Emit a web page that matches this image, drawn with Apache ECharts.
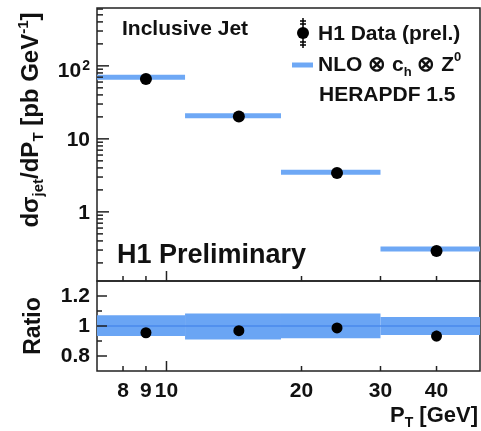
<!DOCTYPE html>
<html>
<head>
<meta charset="utf-8">
<script src="https://cdn.jsdelivr.net/npm/echarts@6/dist/echarts.min.js"></script>
<style>
  html, body { margin: 0; padding: 0; background: #fff; }
  #chart { width: 481px; height: 431px; }
</style>
</head>
<body>
<div id="chart"></div>
<script>
// Inclusive jet cross section in bins of jet transverse momentum
const binEdges   = [7, 11, 18, 30, 50];          // P_T bin edges [GeV]
const ptCenters  = [9, 14.5, 24, 40];            // data point positions [GeV]
const h1Data     = [66, 20.2, 3.4, 0.29];        // dσ/dP_T [pb/GeV]
const h1Err      = [2.0, 0.6, 0.11, 0.012];
const nloPred    = [70, 20.7, 3.5, 0.31];        // NLO ⊗ c_h ⊗ Z0
const ratioData  = [0.955, 0.969, 0.987, 0.933]; // data / theory
const ratioErr   = [0.015, 0.015, 0.02, 0.035];
const bandLow    = [0.934, 0.91, 0.918, 0.94];   // theory uncertainty
const bandHigh   = [1.072, 1.083, 1.083, 1.06];

// axis ticks
const xTickMajor   = [10];
const xTickMinor   = [8, 9, 20, 30, 40];
const xTickLabels  = [8, 9, 10, 20, 30, 40];
const yTickMajor   = [1, 10, 100];
const yTickMinor   = [0.2, 0.3, 0.4, 0.5, 0.6, 0.7, 0.8, 0.9,
                      2, 3, 4, 5, 6, 7, 8, 9,
                      20, 30, 40, 50, 60, 70, 80, 90,
                      200, 300, 400, 500, 600];
const ratioTickMajor = [0.8, 1, 1.2];
const ratioTickMinor = [0.9, 1.1];

const FONT = '"Liberation Sans", Arial, Helvetica, sans-serif';
const INK = '#111';
const FRAME = '#222';
const BLUE = '#6ea8f5';
const BAND = '#6aa5f4';
const BAND_LINE = '#4a8aec';

const xMin = binEdges[0], xMax = binEdges[binEdges.length - 1];
const yMin = 0.113, yMax = 620;
const rMin = 0.7, rMax = 1.3;

const chart = echarts.init(document.getElementById('chart'), null, { renderer: 'canvas' });

function baseAxis(gridIndex, axisType, min, max, labels, extra) {
  const ax = {
    type: axisType,
    gridIndex: gridIndex,
    min: min,
    max: max,
    axisLine: { show: false },
    splitLine: { show: false },
    axisTick: { show: false },
    axisLabel: { show: false }
  };
  if (axisType === 'log') ax.logBase = 10;
  if (labels) {
    ax.axisLabel = Object.assign({
      show: true, customValues: labels, color: INK,
      fontFamily: FONT, fontWeight: 'bold', fontSize: 21
    }, extra || {});
  }
  return ax;
}

const nloSegments = nloPred.map((v, i) => [binEdges[i], binEdges[i + 1], v]);
const bandRects = bandLow.map((lo, i) => [binEdges[i], binEdges[i + 1], lo, bandHigh[i]]);
const dataPts = ptCenters.map((x, i) => [x, h1Data[i]]);
const dataErr = ptCenters.map((x, i) => [x, h1Data[i] - h1Err[i], h1Data[i] + h1Err[i]]);
const ratioPts = ptCenters.map((x, i) => [x, ratioData[i]]);
const ratioErrBars = ptCenters.map((x, i) => [x, ratioData[i] - ratioErr[i], ratioData[i] + ratioErr[i]]);

function errorBarItem(params, api) {
  const top = api.coord([api.value(0), api.value(2)]);
  const bot = api.coord([api.value(0), api.value(1)]);
  return {
    type: 'line',
    shape: { x1: top[0], y1: top[1], x2: bot[0], y2: bot[1] },
    style: { stroke: '#000', lineWidth: 2 }
  };
}

const option = {
  animation: false,
  backgroundColor: '#fff',
  grid: [
    { left: 97, top: 8, width: 383, height: 273, show: true, borderColor: FRAME, borderWidth: 1.5, backgroundColor: 'transparent' },
    { left: 97, top: 281, width: 383, height: 90, show: true, borderColor: FRAME, borderWidth: 1.5, backgroundColor: 'transparent' }
  ],
  xAxis: [
    baseAxis(0, 'log', xMin, xMax),
    baseAxis(1, 'log', xMin, xMax, xTickLabels, { margin: 10 })
  ],
  yAxis: [
    baseAxis(0, 'log', yMin, yMax, yTickMajor, {
      margin: 7,
      formatter: function (v) {
        if (v >= 99) return '{m|10}{s|2}';
        return '{p|' + Math.round(v) + '}';
      },
      rich: {
        p: { fontFamily: FONT, fontWeight: 'bold', fontSize: 21, color: INK, lineHeight: 26, padding: [3, 0, 0, 0] },
        m: { fontFamily: FONT, fontWeight: 'bold', fontSize: 21, color: INK, lineHeight: 32, verticalAlign: 'bottom' },
        s: { fontFamily: FONT, fontWeight: 'bold', fontSize: 14, color: INK, lineHeight: 32, verticalAlign: 'middle', padding: [0, 0, 0, 1] }
      }
    }),
    baseAxis(1, 'value', rMin, rMax, ratioTickMajor, { margin: 7 })
  ],
  series: [
    {
      // theory prediction per bin
      type: 'custom',
      xAxisIndex: 0, yAxisIndex: 0,
      data: nloSegments,
      encode: { x: [0, 1], y: 2 },
      clip: true,
      renderItem: function (params, api) {
        const a = api.coord([api.value(0), api.value(2)]);
        const b = api.coord([api.value(1), api.value(2)]);
        return {
          type: 'line',
          shape: { x1: a[0], y1: a[1], x2: b[0], y2: b[1] },
          style: { stroke: BLUE, lineWidth: 5 }
        };
      },
      z: 2
    },
    {
      type: 'custom',
      xAxisIndex: 0, yAxisIndex: 0,
      data: dataErr,
      encode: { x: 0, y: [1, 2] },
      renderItem: errorBarItem,
      z: 3
    },
    {
      type: 'scatter',
      xAxisIndex: 0, yAxisIndex: 0,
      data: dataPts,
      symbol: 'circle',
      symbolSize: 12,
      itemStyle: { color: '#000', opacity: 1 },
      z: 4
    },
    {
      // theory uncertainty band in the ratio panel
      type: 'custom',
      xAxisIndex: 1, yAxisIndex: 1,
      data: bandRects,
      encode: { x: [0, 1], y: [2, 3] },
      clip: true,
      renderItem: function (params, api) {
        const tl = api.coord([api.value(0), api.value(3)]);
        const br = api.coord([api.value(1), api.value(2)]);
        return {
          type: 'rect',
          shape: { x: tl[0], y: tl[1], width: br[0] - tl[0], height: br[1] - tl[1] },
          style: { fill: BAND }
        };
      },
      z: 2
    },
    {
      type: 'line',
      xAxisIndex: 1, yAxisIndex: 1,
      data: [[xMin, 1], [xMax, 1]],
      showSymbol: false,
      lineStyle: { color: BAND_LINE, width: 1.5 },
      z: 3
    },
    {
      type: 'custom',
      xAxisIndex: 1, yAxisIndex: 1,
      data: ratioErrBars,
      encode: { x: 0, y: [1, 2] },
      renderItem: errorBarItem,
      z: 4
    },
    {
      type: 'scatter',
      xAxisIndex: 1, yAxisIndex: 1,
      data: ratioPts,
      symbol: 'circle',
      symbolSize: 11,
      itemStyle: { color: '#000', opacity: 1 },
      z: 5
    }
  ]
};

chart.setOption(option);

// titles, annotations and legend
const labels = [
  {
    type: 'text', x: 31, y: 120, rotation: Math.PI / 2,
    style: {
      text: '{m|dσ}{b|jet}{m|/dP}{b|T}{m| [pb GeV}{t|-1}{m|]}',
      align: 'center', verticalAlign: 'middle',
      rich: {
        m: { fontFamily: FONT, fontWeight: 'bold', fontSize: 24, fill: INK, lineHeight: 30 },
        b: { fontFamily: FONT, fontWeight: 'bold', fontSize: 15, fill: INK, lineHeight: 30, verticalAlign: 'bottom' },
        t: { fontFamily: FONT, fontWeight: 'bold', fontSize: 15, fill: INK, lineHeight: 30, verticalAlign: 'top' }
      }
    }
  },
  {
    type: 'text', x: 34, y: 326, rotation: Math.PI / 2,
    style: { text: 'Ratio', align: 'center', verticalAlign: 'middle', font: 'bold 23px ' + FONT, fill: INK }
  },
  {
    type: 'text', x: 478, y: 416,
    style: {
      text: '{m|P}{b|T}{m| [GeV]}', align: 'right', verticalAlign: 'middle',
      rich: {
        m: { fontFamily: FONT, fontWeight: 'bold', fontSize: 22, fill: INK, lineHeight: 28 },
        b: { fontFamily: FONT, fontWeight: 'bold', fontSize: 14, fill: INK, lineHeight: 28, verticalAlign: 'bottom' }
      }
    }
  },
  {
    type: 'text', x: 122, y: 29,
    style: { text: 'Inclusive Jet', align: 'left', verticalAlign: 'middle', font: 'bold 21px ' + FONT, fill: INK }
  },
  {
    type: 'text', x: 117, y: 256,
    style: { text: 'H1 Preliminary', align: 'left', verticalAlign: 'middle', font: 'bold 27px ' + FONT, fill: INK }
  },
  // legend: data marker with error bar
  { type: 'line', shape: { x1: 303, y1: 18, x2: 303, y2: 48 }, style: { stroke: '#000', lineWidth: 1.5 } },
  { type: 'line', shape: { x1: 300, y1: 21, x2: 306, y2: 21 }, style: { stroke: '#000', lineWidth: 1.5 } },
  { type: 'line', shape: { x1: 300, y1: 24, x2: 306, y2: 24 }, style: { stroke: '#000', lineWidth: 1.5 } },
  { type: 'line', shape: { x1: 300, y1: 42, x2: 306, y2: 42 }, style: { stroke: '#000', lineWidth: 1.5 } },
  { type: 'line', shape: { x1: 300, y1: 45, x2: 306, y2: 45 }, style: { stroke: '#000', lineWidth: 1.5 } },
  { type: 'circle', shape: { cx: 303, cy: 33, r: 6 }, style: { fill: '#000' } },
  {
    type: 'text', x: 318, y: 34,
    style: { text: 'H1 Data (prel.)', align: 'left', verticalAlign: 'middle', font: 'bold 21px ' + FONT, fill: INK }
  },
  // legend: theory line
  { type: 'line', shape: { x1: 292, y1: 65, x2: 313, y2: 65 }, style: { stroke: BLUE, lineWidth: 5 } },
  {
    type: 'text', x: 318, y: 65,
    style: {
      text: '{m|NLO ⊗ c}{b|h}{m| ⊗ Z}{t|0}', align: 'left', verticalAlign: 'middle',
      rich: {
        m: { fontFamily: FONT, fontWeight: 'bold', fontSize: 21, fill: INK, lineHeight: 28 },
        b: { fontFamily: FONT, fontWeight: 'bold', fontSize: 13, fill: INK, lineHeight: 28, verticalAlign: 'bottom' },
        t: { fontFamily: FONT, fontWeight: 'bold', fontSize: 13, fill: INK, lineHeight: 28, verticalAlign: 'top' }
      }
    }
  },
  {
    type: 'text', x: 319, y: 95,
    style: { text: 'HERAPDF 1.5', align: 'left', verticalAlign: 'middle', font: 'bold 21px ' + FONT, fill: INK }
  }
];

// inward tick marks, positioned by the axis scales of each grid
const ticks = [];
function addTicks(gridIndex, dir, values, len, anchor) {
  values.forEach(function (v) {
    const p = chart.convertToPixel({ gridIndex: gridIndex }, dir === 'x' ? [v, anchor] : [anchor, v]);
    if (!p || isNaN(p[0]) || isNaN(p[1])) return;
    const shape = dir === 'x'
      ? { x1: p[0], y1: p[1], x2: p[0], y2: p[1] - len }
      : { x1: p[0], y1: p[1], x2: p[0] + len, y2: p[1] };
    ticks.push({ type: 'line', shape: shape, style: { stroke: FRAME, lineWidth: 1.5 }, z: 10 });
  });
}
addTicks(0, 'x', xTickMajor, 10, yMin);
addTicks(0, 'x', xTickMinor, 5, yMin);
addTicks(0, 'y', yTickMajor, 12, xMin);
addTicks(0, 'y', yTickMinor, 6, xMin);
addTicks(1, 'x', xTickMajor, 10, rMin);
addTicks(1, 'x', xTickMinor, 5, rMin);
addTicks(1, 'y', ratioTickMajor, 10, xMin);
addTicks(1, 'y', ratioTickMinor, 5, xMin);

chart.setOption({ graphic: labels.concat(ticks) });
</script>
</body>
</html>
